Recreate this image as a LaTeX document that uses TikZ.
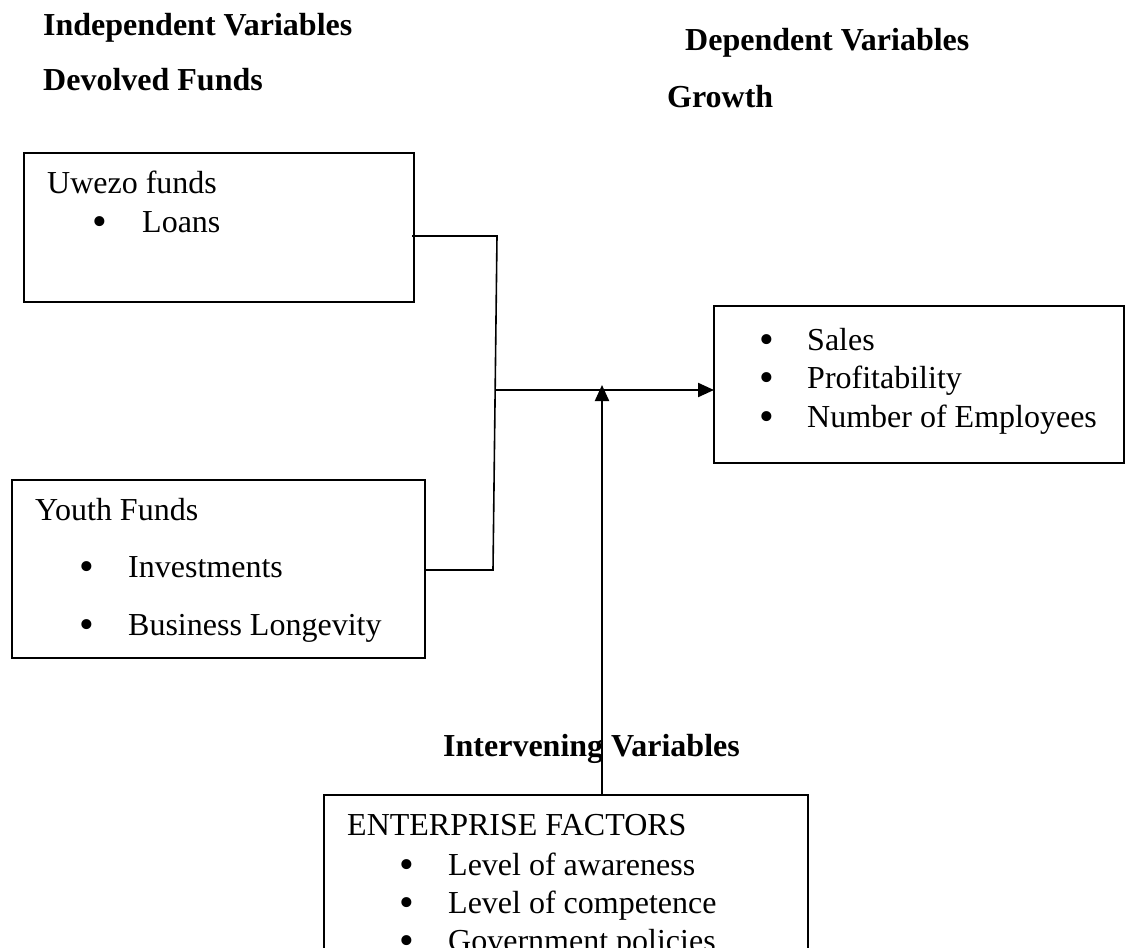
\documentclass[tikz,border=0pt]{standalone}
\usepackage{fontspec}
\setmainfont{Liberation Serif}
\usetikzlibrary{arrows.meta}
\begin{document}
\begin{tikzpicture}[x=1pt,y=-1pt,
  box/.style={draw, line width=1.6pt, inner sep=0pt, outer sep=0pt, anchor=north west},
  txt/.style={anchor=base west, inner sep=0pt, font=\fontsize{32}{38}\selectfont},
  hd/.style={anchor=base west, inner sep=0pt, font=\fontsize{32}{38}\selectfont\bfseries},
  bul/.style={anchor=base, inner sep=0pt, font=\fontsize{42}{44}\selectfont},
  conn/.style={line width=1.6pt},
  arr/.style={line width=2.2pt, -{Triangle[length=16pt,width=14pt]}}]
\useasboundingbox (0,0) rectangle (1125,948);
\clip (0,0) rectangle (1125,948);
% headings
\node[hd] (indep) at (43,35) {Independent Variables};
\node[hd] (devolved) at (43,90) {Devolved Funds};
\node[hd] (dep) at (685,50) {Dependent Variables};
\node[hd] (growth) at (667,107) {Growth};
\node[hd] (interv) at (443,756) {Intervening Variables};
% boxes
\node[box, minimum width=390pt, minimum height=149pt] (uwezo) at (24,153) {};
\node[box, minimum width=413pt, minimum height=178pt] (youth) at (12,480) {};
\node[box, minimum width=410pt, minimum height=157pt] (depbox) at (714,306) {};
\node[box, minimum width=484pt, minimum height=200pt] (ent) at (324,795) {};
% Uwezo
\node[txt] (uwezoT) at (47,193) {Uwezo funds};
\node[bul] (ub1) at (100,235) {•};
\node[txt] (loans) at (142,232) {Loans};
% Youth
\node[txt] (youthT) at (35,520) {Youth Funds};
\node[bul] (yb1) at (87,580) {•};
\node[txt] (inv) at (128,577) {Investments};
\node[bul] (yb2) at (87,638) {•};
\node[txt] (longev) at (128,635) {Business Longevity};
% Dependent
\node[bul] (db1) at (767,353) {•};
\node[txt] (sales) at (807,350) {Sales};
\node[bul] (db2) at (767,391) {•};
\node[txt] (profit) at (807,388) {Profitability};
\node[bul] (db3) at (767,430) {•};
\node[txt] (employ) at (807,427) {Number of Employees};
% Enterprise
\node[txt] (entT) at (347,835) {ENTERPRISE FACTORS};
\node[bul] (eb1) at (407,878) {•};
\node[txt] (aware) at (448,875) {Level of awareness};
\node[bul] (eb2) at (407,916) {•};
\node[txt] (compet) at (448,913) {Level of competence};
\node[bul] (eb3) at (407,954) {•};
\node[txt] (gov) at (448,951) {Government policies};
% connectors
\coordinate (j1) at (497,236);
\coordinate (j2) at (493,570);
\coordinate (jm) at (496,390);
\coordinate (tip) at (602,385);
\draw[conn] ([xshift=-2pt]uwezo.east |- j1) -- (j1) -- (j2) -- (youth.east |- j2);
\draw[arr] (jm) -- (depbox.west |- jm);
\draw[arr] (ent.north -| tip) -- (tip);
\end{tikzpicture}
\end{document}
